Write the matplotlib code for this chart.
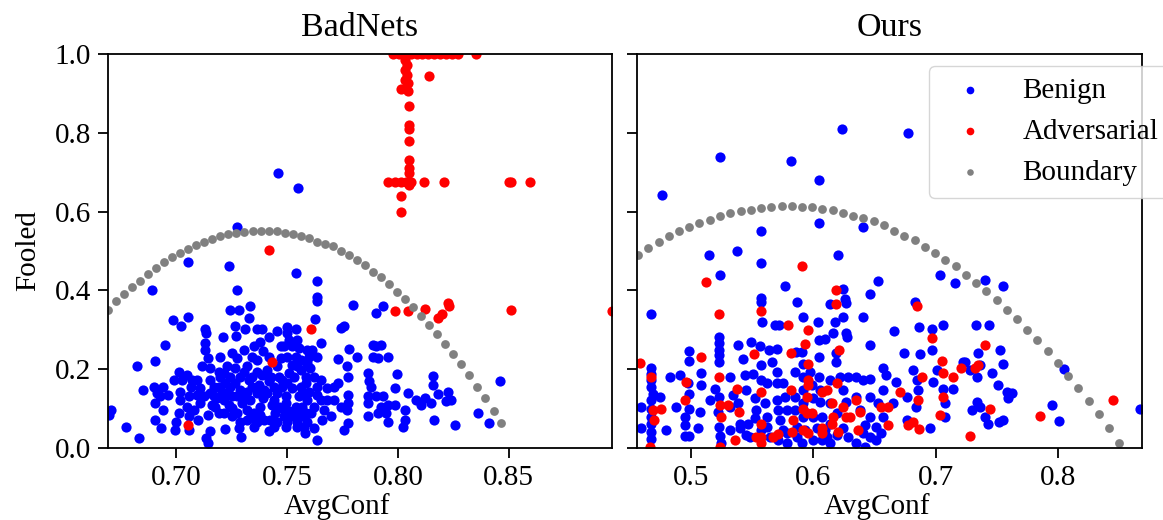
import numpy as np
import matplotlib
matplotlib.use("Agg")
import matplotlib.pyplot as plt

plt.rcParams["font.family"] = ["Liberation Serif", "DejaVu Serif"]

# ---- BadNets panel: (AvgConf, Fooled) ----
badnets_benign = np.array([
    (0.7459, 0.699), (0.7548, 0.659), (0.7277, 0.562),
    (0.6709, 0.097), (0.6698, 0.084), (0.6774, 0.054), (0.6834, 0.025), (0.6849, 0.148), (0.6825, 0.207),
    (0.6890, 0.402), (0.6905, 0.222), (0.6902, 0.156), (0.6912, 0.139), (0.6905, 0.114), (0.6943, 0.156),
    (0.6927, 0.131), (0.6905, 0.071), (0.6931, 0.050), (0.6940, 0.097), (0.6965, 0.135),
    (0.6950, 0.262), (0.6988, 0.324), (0.7021, 0.310), (0.7056, 0.332), (0.7056, 0.472),
    (0.6991, 0.173), (0.7015, 0.194), (0.7026, 0.173), (0.7018, 0.143), (0.7018, 0.122), (0.7015, 0.088),
    (0.7000, 0.067), (0.6995, 0.046), (0.7051, 0.186), (0.7066, 0.156), (0.7060, 0.131), (0.7051, 0.105),
    (0.7060, 0.080), (0.7060, 0.046), (0.7079, 0.097), (0.7101, 0.071), (0.7116, 0.207), (0.7146, 0.228),
    (0.7094, 0.173), (0.7109, 0.152), (0.7124, 0.131), (0.7109, 0.114), (0.7142, 0.084), (0.7136, 0.025),
    (0.7146, 0.012), (0.7154, 0.042), (0.7131, 0.302), (0.7136, 0.291), (0.7131, 0.266), (0.7131, 0.249),
    (0.7154, 0.203), (0.7154, 0.173), (0.7169, 0.156), (0.7154, 0.139), (0.7162, 0.110), (0.7184, 0.126),
    (0.7192, 0.156), (0.7200, 0.181), (0.7211, 0.281), (0.7245, 0.351), (0.7282, 0.351), (0.7335, 0.361),
    (0.7328, 0.330), (0.7267, 0.310), (0.7270, 0.285), (0.7313, 0.302), (0.7275, 0.402), (0.7237, 0.463),
    (0.7229, 0.208), (0.7214, 0.190), (0.7222, 0.164), (0.7207, 0.143), (0.7229, 0.139), (0.7214, 0.122),
    (0.7237, 0.110), (0.7217, 0.088), (0.7222, 0.048), (0.7252, 0.101), (0.7275, 0.228), (0.7267, 0.203),
    (0.7287, 0.181), (0.7267, 0.164), (0.7290, 0.147), (0.7275, 0.131), (0.7297, 0.114), (0.7275, 0.088),
    (0.7290, 0.067), (0.7293, 0.027), (0.7282, 0.050), (0.7308, 0.249), (0.7320, 0.207), (0.7328, 0.173),
    (0.7320, 0.143), (0.7335, 0.122), (0.7320, 0.097), (0.7335, 0.076), (0.7353, 0.054), (0.7350, 0.088),
    (0.7350, 0.259), (0.7365, 0.302), (0.7388, 0.302), (0.7380, 0.270), (0.7393, 0.245), (0.7365, 0.224),
    (0.7365, 0.194), (0.7388, 0.186), (0.7373, 0.160), (0.7396, 0.147), (0.7365, 0.139), (0.7393, 0.126),
    (0.7378, 0.105), (0.7365, 0.067), (0.7396, 0.071), (0.7418, 0.283), (0.7418, 0.042), (0.7423, 0.071),
    (0.7426, 0.181), (0.7411, 0.198), (0.7418, 0.169), (0.7456, 0.296), (0.7471, 0.258), (0.7456, 0.207),
    (0.7464, 0.181), (0.7441, 0.156), (0.7456, 0.139), (0.7441, 0.122), (0.7464, 0.105), (0.7448, 0.088),
    (0.7456, 0.067), (0.7479, 0.156), (0.7495, 0.131), (0.7498, 0.307), (0.7501, 0.291), (0.7540, 0.302),
    (0.7509, 0.274), (0.7486, 0.259), (0.7524, 0.259), (0.7547, 0.274), (0.7554, 0.253), (0.7501, 0.232),
    (0.7540, 0.232), (0.7524, 0.211), (0.7547, 0.207), (0.7509, 0.190), (0.7532, 0.181), (0.7501, 0.164),
    (0.7524, 0.152), (0.7495, 0.114), (0.7509, 0.093), (0.7486, 0.080), (0.7524, 0.080), (0.7501, 0.067),
    (0.7540, 0.105), (0.7547, 0.067), (0.7554, 0.131), (0.7540, 0.444), (0.7562, 0.156), (0.7584, 0.181),
    (0.7592, 0.249), (0.7599, 0.232), (0.7592, 0.215), (0.7604, 0.203), (0.7569, 0.139), (0.7592, 0.122),
    (0.7569, 0.105), (0.7584, 0.088), (0.7592, 0.067), (0.7577, 0.054), (0.7580, 0.039), (0.7622, 0.050),
    (0.7637, 0.020), (0.7622, 0.105), (0.7637, 0.135), (0.7637, 0.156), (0.7622, 0.181), (0.7637, 0.232),
    (0.7614, 0.249), (0.7652, 0.266), (0.7627, 0.327), (0.7634, 0.423), (0.7634, 0.383), (0.7637, 0.372),
    (0.7652, 0.122), (0.7660, 0.071), (0.7682, 0.152), (0.7698, 0.080), (0.7713, 0.122), (0.7713, 0.156),
    (0.7728, 0.225), (0.7743, 0.305), (0.7758, 0.310), (0.7770, 0.207), (0.7781, 0.251), (0.7773, 0.181),
    (0.7773, 0.134), (0.7773, 0.113), (0.7770, 0.097), (0.7773, 0.063), (0.7755, 0.046), (0.7816, 0.232),
    (0.7796, 0.362), (0.7864, 0.191), (0.7872, 0.169), (0.7879, 0.156), (0.7864, 0.131), (0.7864, 0.114),
    (0.7864, 0.080), (0.7886, 0.262), (0.7890, 0.232), (0.7902, 0.258), (0.7925, 0.262), (0.7902, 0.342),
    (0.7932, 0.361), (0.7910, 0.228), (0.7954, 0.232), (0.7902, 0.131), (0.7932, 0.131), (0.7925, 0.105),
    (0.7910, 0.088), (0.7954, 0.110), (0.7947, 0.088), (0.7954, 0.067), (0.7985, 0.110), (0.7985, 0.152),
    (0.7997, 0.188), (0.8030, 0.097), (0.8030, 0.071), (0.8023, 0.054), (0.8045, 0.140), (0.8083, 0.122),
    (0.8120, 0.126), (0.8105, 0.110), (0.8158, 0.183), (0.8158, 0.160), (0.8150, 0.114), (0.8165, 0.071),
    (0.8180, 0.137), (0.8226, 0.143), (0.8219, 0.118), (0.8238, 0.122), (0.8259, 0.059), (0.8359, 0.088),
    (0.8410, 0.063), (0.8460, 0.169),
    (0.7177, 0.105), (0.7192, 0.088), (0.7245, 0.156), (0.7252, 0.131), (0.7302, 0.131), (0.7343, 0.156),
    (0.7411, 0.139), (0.7433, 0.110), (0.7479, 0.101), (0.7554, 0.097), (0.7562, 0.080), (0.7607, 0.088),
    (0.7599, 0.143), (0.7584, 0.164), (0.7479, 0.173), (0.7343, 0.181), (0.7305, 0.194), (0.7245, 0.181),
    (0.7192, 0.194), (0.7169, 0.131), (0.7252, 0.080), (0.7320, 0.071), (0.7380, 0.084), (0.7441, 0.054),
    (0.7494, 0.054), (0.7547, 0.054), (0.7094, 0.135), (0.7071, 0.173), (0.7200, 0.232), (0.7252, 0.241),
    (0.7343, 0.232), (0.7418, 0.232), (0.7471, 0.228), (0.7562, 0.198), (0.7562, 0.224), (0.7652, 0.173),
    (0.7682, 0.122), (0.7667, 0.097), (0.7728, 0.164), (0.7743, 0.105),
])

badnets_adv = np.array([
    (0.7977, 1.0), (0.8003, 1.0), (0.8030, 1.0), (0.8057, 1.0), (0.8084, 1.0), (0.8110, 1.0), (0.8137, 1.0),
    (0.8164, 1.0), (0.8191, 1.0), (0.8217, 1.0), (0.8244, 1.0), (0.8271, 1.0), (0.8351, 1.0),
    (0.8030, 0.986), (0.8039, 0.973), (0.8030, 0.960), (0.8039, 0.948), (0.8030, 0.935), (0.8044, 0.927),
    (0.8012, 0.912), (0.8044, 0.907), (0.8141, 0.944), (0.8048, 0.869), (0.8048, 0.820), (0.8048, 0.809),
    (0.8048, 0.779), (0.8048, 0.731), (0.8048, 0.712), (0.8048, 0.699),
    (0.7955, 0.674), (0.7985, 0.674), (0.8012, 0.674), (0.8035, 0.674), (0.8048, 0.668), (0.8057, 0.674),
    (0.8119, 0.674), (0.8208, 0.674), (0.8503, 0.674), (0.8510, 0.674), (0.8597, 0.674),
    (0.8016, 0.640), (0.8016, 0.600), (0.7418, 0.503), (0.7607, 0.302), (0.7433, 0.218), (0.7053, 0.059),
    (0.7988, 0.349), (0.8045, 0.348), (0.8120, 0.353), (0.8180, 0.330), (0.8200, 0.341), (0.8226, 0.368),
    (0.8230, 0.361), (0.8509, 0.351), (0.8963, 0.347),
])

badnets_bound_x = [
    0.6693, 0.6729, 0.6765, 0.6802, 0.6838, 0.6874, 0.6910, 0.6946, 0.6983, 0.7019,
    0.7055, 0.7091, 0.7127, 0.7164, 0.7200, 0.7236, 0.7272, 0.7308, 0.7345, 0.7381,
    0.7417, 0.7453, 0.7489, 0.7526, 0.7562, 0.7598, 0.7634, 0.7670, 0.7707, 0.7743,
    0.7779, 0.7815, 0.7851, 0.7888, 0.7924, 0.7960, 0.7996, 0.8032, 0.8069, 0.8105,
    0.8141, 0.8177, 0.8213, 0.8250, 0.8286, 0.8322, 0.8358, 0.8394, 0.8431, 0.8467,
]
badnets_bound_y = [
    0.351, 0.372, 0.391, 0.408, 0.425, 0.442, 0.458, 0.471, 0.485, 0.495,
    0.506, 0.516, 0.524, 0.531, 0.537, 0.542, 0.546, 0.549, 0.551, 0.552,
    0.551, 0.550, 0.547, 0.543, 0.538, 0.532, 0.524, 0.519, 0.512, 0.501,
    0.489, 0.476, 0.465, 0.448, 0.434, 0.416, 0.397, 0.378, 0.359, 0.336,
    0.313, 0.290, 0.264, 0.239, 0.212, 0.186, 0.156, 0.126, 0.094, 0.063,
]

# ---- Ours panel ----
ours_benign = np.array([
    (0.6236, 0.809), (0.6778, 0.799), (0.5232, 0.739), (0.5814, 0.729), (0.6044, 0.680), (0.4762, 0.641),
    (0.6046, 0.571), (0.6407, 0.560), (0.5568, 0.550), (0.5145, 0.490), (0.5377, 0.501), (0.5568, 0.470),
    (0.6197, 0.490), (0.5238, 0.440), (0.7036, 0.440), (0.7158, 0.419), (0.7404, 0.427), (0.7549, 0.410),
    (0.6530, 0.425), (0.5770, 0.410), (0.6238, 0.404), (0.6467, 0.390), (0.5566, 0.381), (0.5574, 0.370),
    (0.6257, 0.379), (0.6265, 0.368), (0.5861, 0.370), (0.6134, 0.365), (0.6830, 0.370), (0.4667, 0.341),
    (0.5579, 0.320), (0.5910, 0.332), (0.6033, 0.320), (0.6180, 0.320), (0.6243, 0.332), (0.6407, 0.332),
    (0.5683, 0.311), (0.5719, 0.311), (0.6156, 0.292), (0.6265, 0.292), (0.6276, 0.282), (0.6661, 0.297),
    (0.6861, 0.307), (0.6973, 0.303), (0.7063, 0.311), (0.7328, 0.311), (0.7440, 0.311),
    (0.5227, 0.282), (0.5227, 0.267), (0.5227, 0.250), (0.5227, 0.235), (0.5227, 0.219),
    (0.5492, 0.269), (0.5560, 0.258), (0.5383, 0.261), (0.5637, 0.248), (0.5705, 0.252), (0.6046, 0.273),
    (0.6093, 0.276), (0.6462, 0.261), (0.6973, 0.250), (0.7344, 0.241), (0.7527, 0.250), (0.4981, 0.246),
    (0.4981, 0.221), (0.5423, 0.227), (0.5855, 0.244), (0.6046, 0.231), (0.6183, 0.241), (0.6188, 0.219),
    (0.6740, 0.241), (0.6872, 0.238), (0.7240, 0.219), (0.7549, 0.212),
    (0.4667, 0.202), (0.4667, 0.187), (0.4667, 0.172), (0.4667, 0.155), (0.4686, 0.138), (0.4740, 0.130),
    (0.4672, 0.121), (0.4672, 0.100), (0.4672, 0.079), (0.4672, 0.062), (0.4672, 0.041), (0.4672, 0.024),
    (0.4590, 0.105), (0.4590, 0.050), (0.4828, 0.181), (0.4904, 0.185), (0.4973, 0.164), (0.4981, 0.138),
    (0.4981, 0.100), (0.4945, 0.079), (0.4945, 0.058), (0.4945, 0.030), (0.4981, 0.030), (0.4877, 0.105),
    (0.4795, 0.046), (0.5055, 0.050), (0.5082, 0.191), (0.5082, 0.161), (0.5068, 0.092), (0.5150, 0.121),
    (0.5191, 0.151), (0.5227, 0.130), (0.5219, 0.092), (0.5227, 0.054), (0.5232, 0.030), (0.5246, 0.012),
    (0.5314, 0.181), (0.5314, 0.105), (0.5314, 0.046), (0.5383, 0.113), (0.5396, 0.062), (0.5437, 0.185),
    (0.5450, 0.033), (0.5505, 0.189), (0.5519, 0.126), (0.5533, 0.096), (0.5519, 0.075), (0.5574, 0.210),
    (0.5574, 0.172), (0.5615, 0.164), (0.5601, 0.113), (0.5615, 0.079), (0.5574, 0.046), (0.5656, 0.219),
    (0.5697, 0.193), (0.5697, 0.164), (0.5697, 0.121), (0.5710, 0.096), (0.5724, 0.071), (0.5751, 0.046),
    (0.5779, 0.012), (0.5765, 0.130), (0.5847, 0.193), (0.5847, 0.130), (0.5847, 0.096), (0.5861, 0.054),
    (0.5902, 0.244), (0.5910, 0.214), (0.5915, 0.181), (0.5910, 0.147), (0.5915, 0.113), (0.5915, 0.079),
    (0.5929, 0.046), (0.5969, 0.193), (0.5984, 0.160), (0.5992, 0.126), (0.5997, 0.079), (0.5992, 0.020),
    (0.6046, 0.181), (0.6052, 0.147), (0.6052, 0.117), (0.6066, 0.079), (0.6093, 0.046), (0.6066, 0.020),
    (0.6134, 0.172), (0.6134, 0.113), (0.6216, 0.181), (0.6243, 0.147), (0.6270, 0.117), (0.6284, 0.181),
    (0.6352, 0.181), (0.6407, 0.172), (0.6462, 0.176), (0.6352, 0.130), (0.6380, 0.096), (0.6421, 0.058),
    (0.6352, 0.012), (0.6421, 0.003), (0.6462, 0.079), (0.6516, 0.054), (0.6530, 0.113), (0.6571, 0.202),
    (0.6598, 0.185), (0.6571, 0.079), (0.6557, 0.037), (0.6650, 0.113), (0.6680, 0.168), (0.6762, 0.130),
    (0.6762, 0.071), (0.6817, 0.197), (0.6844, 0.172), (0.6858, 0.147), (0.6839, 0.105), (0.6954, 0.050),
    (0.6975, 0.168), (0.7008, 0.197), (0.7063, 0.151), (0.7077, 0.113), (0.7145, 0.151), (0.7077, 0.079),
    (0.7227, 0.219), (0.7281, 0.197), (0.7336, 0.181), (0.7363, 0.210), (0.7295, 0.096), (0.7336, 0.117),
    (0.7363, 0.105), (0.7404, 0.079), (0.7432, 0.062), (0.7459, 0.191), (0.7514, 0.160), (0.7522, 0.066),
    (0.7555, 0.071), (0.7582, 0.143), (0.7623, 0.140), (0.7596, 0.126),
    (0.5396, 0.050), (0.5464, 0.062), (0.5478, 0.029), (0.5615, 0.054), (0.5642, 0.029), (0.5710, 0.020),
    (0.5779, 0.037), (0.5861, 0.029), (0.5902, 0.012), (0.6025, 0.050), (0.6107, 0.029), (0.6134, 0.012),
    (0.6189, 0.033), (0.6243, 0.050), (0.6284, 0.029), (0.6407, 0.037), (0.6462, 0.029), (0.6516, 0.020),
    (0.5451, 0.147), (0.5342, 0.134), (0.5751, 0.164), (0.5779, 0.096), (0.6189, 0.088), (0.6134, 0.062),
    (0.6462, 0.130), (0.6571, 0.147),
    (0.7956, 0.110), (0.8014, 0.069), (0.8053, 0.201), (0.8677, 0.099),
])

ours_adv = np.array([
    (0.4577, 0.217), (0.4667, 0.181), (0.4686, 0.096), (0.4691, 0.072), (0.4663, 0.003), (0.4754, 0.100),
    (0.4954, 0.168), (0.4945, 0.121), (0.5123, 0.421), (0.5227, 0.341), (0.5082, 0.231), (0.5227, 0.181),
    (0.5238, 0.109), (0.5246, 0.079), (0.5301, 0.109), (0.5374, 0.151), (0.5391, 0.092), (0.5232, 0.003),
    (0.5355, 0.020), (0.5511, 0.238), (0.5574, 0.349), (0.5574, 0.143), (0.5574, 0.062), (0.5533, 0.029),
    (0.5574, 0.029), (0.5574, 0.012), (0.5669, 0.029), (0.5710, 0.035), (0.5792, 0.311), (0.5814, 0.241),
    (0.5814, 0.147), (0.5833, 0.071), (0.5820, 0.041), (0.5907, 0.461), (0.5956, 0.300), (0.5929, 0.263),
    (0.5951, 0.214), (0.5956, 0.172), (0.5956, 0.160), (0.5943, 0.130), (0.5915, 0.100), (0.5943, 0.088),
    (0.5915, 0.046), (0.5956, 0.037), (0.5984, 0.088), (0.6066, 0.143), (0.6107, 0.147), (0.6066, 0.050),
    (0.6066, 0.037), (0.6148, 0.113), (0.6161, 0.079), (0.6148, 0.062), (0.6202, 0.041), (0.6183, 0.400),
    (0.6183, 0.366), (0.6210, 0.250), (0.6194, 0.164), (0.6243, 0.105), (0.6265, 0.079), (0.6298, 0.079),
    (0.6347, 0.121), (0.6380, 0.092), (0.6366, 0.046), (0.6557, 0.105), (0.6612, 0.105), (0.6612, 0.058),
    (0.6708, 0.143), (0.6776, 0.058), (0.6817, 0.067), (0.6850, 0.360), (0.6858, 0.121), (0.6885, 0.181),
    (0.6866, 0.047), (0.6973, 0.280), (0.7036, 0.084), (0.7049, 0.221), (0.7063, 0.191), (0.7063, 0.130),
    (0.7139, 0.181), (0.7208, 0.202), (0.7281, 0.030), (0.7322, 0.202), (0.7350, 0.210), (0.7404, 0.261),
    (0.7445, 0.100), (0.7855, 0.080), (0.8450, 0.123),
])

ours_bound_x = [
    0.4563, 0.4647, 0.4731, 0.4815, 0.4899, 0.4983, 0.5066, 0.5150, 0.5234, 0.5318,
    0.5402, 0.5486, 0.5570, 0.5654, 0.5738, 0.5822, 0.5905, 0.5989, 0.6073, 0.6157,
    0.6241, 0.6325, 0.6409, 0.6493, 0.6577, 0.6661, 0.6744, 0.6828, 0.6912, 0.6996,
    0.7080, 0.7164, 0.7248, 0.7332, 0.7416, 0.7500, 0.7583, 0.7667, 0.7751, 0.7835,
    0.7919, 0.8003, 0.8087, 0.8171, 0.8255, 0.8339, 0.8422, 0.8506,
]
ours_bound_y = [
    0.491, 0.508, 0.522, 0.537, 0.550, 0.560, 0.571, 0.580, 0.588, 0.596,
    0.601, 0.605, 0.609, 0.613, 0.614, 0.614, 0.613, 0.611, 0.607, 0.603,
    0.597, 0.590, 0.583, 0.575, 0.565, 0.552, 0.539, 0.527, 0.511, 0.495,
    0.478, 0.461, 0.440, 0.419, 0.398, 0.376, 0.351, 0.327, 0.300, 0.273,
    0.245, 0.215, 0.182, 0.152, 0.120, 0.085, 0.050, 0.013,
]

fig, (ax1, ax2) = plt.subplots(1, 2, sharey=True, figsize=(11.63, 5.2), dpi=100)
fig.subplots_adjust(left=0.0926, right=0.9817, bottom=0.1385, top=0.896, wspace=0.0487)

panels = [
    (ax1, "BadNets", badnets_benign, badnets_adv, badnets_bound_x, badnets_bound_y),
    (ax2, "Ours", ours_benign, ours_adv, ours_bound_x, ours_bound_y),
]
for ax, title, benign, adv, bx, by in panels:
    ax.scatter(benign[:, 0], benign[:, 1], s=54, c="blue", linewidths=0, label="Benign")
    ax.scatter(adv[:, 0], adv[:, 1], s=54, c="red", linewidths=0, label="Adversarial")
    ax.scatter(bx, by, s=40, c="gray", linewidths=0, label="Boundary")
    ax.set_title(title, fontsize=24.5, pad=13)
    ax.set_xlabel("AvgConf", fontsize=21, labelpad=1.5)
    ax.tick_params(labelsize=21, length=7, width=1.3, pad=5)
    for sp in ax.spines.values():
        sp.set_linewidth(1.3)

ax1.set_xlim(0.6692, 0.8967)
ax1.set_xticks([0.70, 0.75, 0.80, 0.85])
ax1.set_xticklabels(["0.70", "0.75", "0.80", "0.85"])
ax2.set_xlim(0.4554, 0.8689)
ax2.set_xticks([0.5, 0.6, 0.7, 0.8])
ax1.set_ylim(0, 1.0)
ax1.set_yticks([0.0, 0.2, 0.4, 0.6, 0.8, 1.0])
ax1.set_ylabel("Fooled", fontsize=21, labelpad=10)

ax1.xaxis.label.set_x(0.455)
ax2.xaxis.label.set_x(0.476)

ax2.legend(loc="upper left", bbox_to_anchor=(929 / 1163, 1 - 66 / 520),
           bbox_transform=fig.transFigure, borderaxespad=0, fontsize=21, markerscale=0.75)

fig.savefig("out.png", dpi=100)
